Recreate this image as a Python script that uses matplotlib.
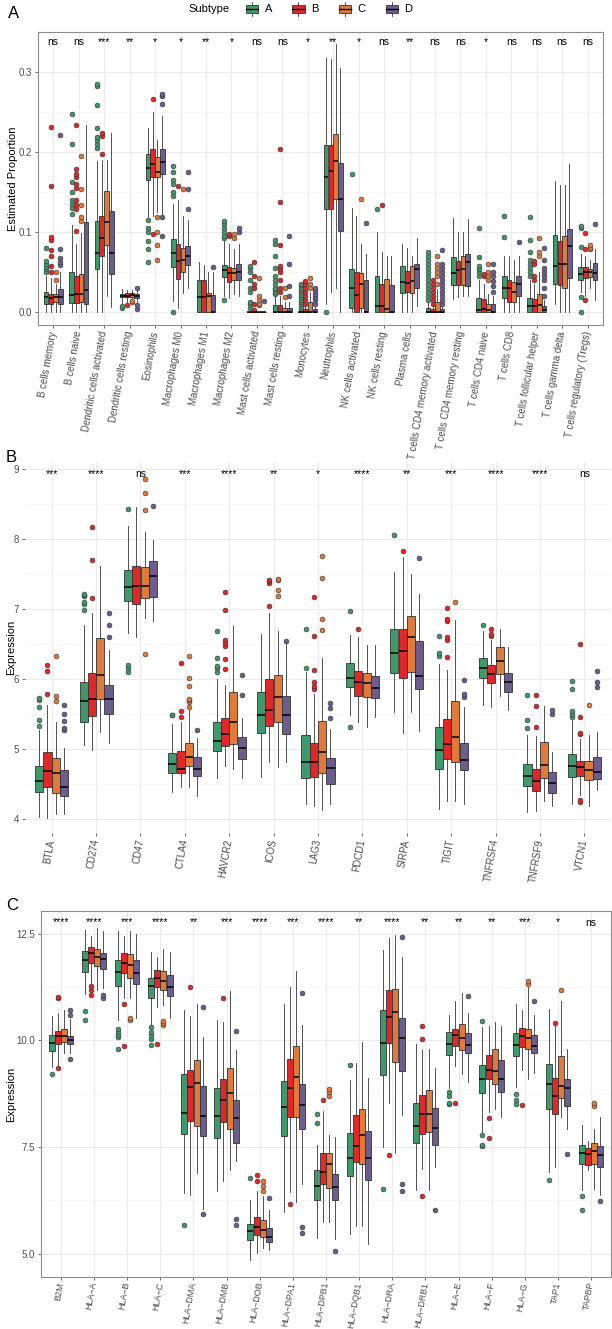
import matplotlib
matplotlib.use("Agg")
import matplotlib.pyplot as plt
import matplotlib.transforms as mtransforms
from matplotlib.patches import Rectangle, Patch
from matplotlib.lines import Line2D
from matplotlib.legend_handler import HandlerBase
import numpy as np

plt.rcParams['font.family'] = ['Liberation Sans', 'DejaVu Sans']

# ---------------- data ----------------
subtypes = ["A", "B", "C", "D"]
colors = ["#3E9A6C", "#E0282A", "#E07A3A", "#6B5D8C"]

# Panel A : CIBERSORT immune cell proportions
cats_a = ["B cells memory", "B cells naive", "Dendritic cells activated", "Dendritic cells resting",
          "Eosinophils", "Macrophages M0", "Macrophages M1", "Macrophages M2", "Mast cells activated",
          "Mast cells resting", "Monocytes", "Neutrophils", "NK cells activated", "NK cells resting",
          "Plasma cells", "T cells CD4 memory activated", "T cells CD4 memory resting", "T cells CD4 naive",
          "T cells CD8", "T cells follicular helper", "T cells gamma delta", "T cells regulatory (Tregs)"]
sig_a = ["ns", "ns", "***", "**", "*", "*", "**", "*", "ns", "ns", "*", "**", "*", "ns", "**", "ns", "ns",
         "*", "ns", "ns", "ns", "ns"]
a_lo = [[0, 0, 0, 0], [0, 0, 0, 0], [0, 0, 0.02, 0.006], [0.01, 0.012, 0.015, 0.012],
        [0.118, 0.12, 0.125, 0.122], [0.013, 0.005, 0.023, 0.03], [0, 0, 0, 0], [0.02, 0.017, 0.022, 0.02],
        [0, 0, 0, 0], [0, 0, 0, 0], [0, 0, 0, 0], [0.01, 0.025, 0.03, 0], [0, 0, 0, 0], [0, 0, 0, 0],
        [0, 0, 0, 0.007], [0, 0, 0, 0], [0.016, 0.018, 0.02, 0.02], [0, 0, 0, 0], [0, 0, 0, 0],
        [0, 0, 0, 0], [0.01, 0, 0, 0], [0.025, 0.02, 0.03, 0.015]]
a_q1 = [[0.010, 0.010, 0.012, 0.010], [0.011, 0.011, 0.012, 0.010], [0.053, 0.070, 0.083, 0.047],
        [0.018, 0.018, 0.018, 0.017], [0.165, 0.168, 0.168, 0.172], [0.056, 0.041, 0.050, 0.058],
        [0, 0, 0, 0], [0.043, 0.037, 0.040, 0.040], [0, 0, 0, 0], [0, 0, 0, 0], [0, 0, 0, 0],
        [0.129, 0.129, 0.141, 0.101], [0.005, 0, 0.004, 0], [0, 0, 0, 0], [0.023, 0.025, 0.023, 0.030],
        [0, 0, 0, 0], [0.033, 0.033, 0.033, 0.032], [0, 0, 0, 0], [0.017, 0.012, 0.012, 0.020],
        [0, 0, 0, 0], [0.034, 0.033, 0.030, 0.042], [0.040, 0.042, 0.043, 0.040]]
a_med = [[0.018, 0.017, 0.018, 0.018], [0.021, 0.022, 0.022, 0.027], [0.073, 0.092, 0.112, 0.073],
         [0.020, 0.020, 0.021, 0.020], [0.180, 0.185, 0.175, 0.187], [0.073, 0.063, 0.065, 0.070],
         [0.018, 0.018, 0.019, 0], [0.052, 0.048, 0.048, 0.050], [0, 0, 0, 0], [0, 0, 0, 0], [0, 0, 0, 0],
         [0.168, 0.176, 0.188, 0.141], [0.030, 0.021, 0.035, 0], [0.007, 0.007, 0.003, 0],
         [0.037, 0.036, 0.038, 0.053], [0, 0, 0, 0], [0.048, 0.052, 0.053, 0.062],
         [0.002, 0.003, 0.002, 0], [0.029, 0.030, 0.025, 0.034], [0.007, 0.007, 0.008, 0.002],
         [0.057, 0.060, 0.060, 0.082], [0.047, 0.050, 0.050, 0.048]]
a_q3 = [[0.025, 0.022, 0.022, 0.028], [0.050, 0.045, 0.047, 0.112], [0.113, 0.120, 0.151, 0.126],
        [0.022, 0.023, 0.023, 0.022], [0.197, 0.204, 0.193, 0.204], [0.091, 0.085, 0.080, 0.082],
        [0.040, 0.040, 0.023, 0.021], [0.058, 0.056, 0.055, 0.060], [0, 0, 0, 0],
        [0.008, 0.008, 0.005, 0.005], [0, 0.003, 0.012, 0.003], [0.208, 0.208, 0.222, 0.186],
        [0.053, 0.050, 0.049, 0.039], [0.045, 0.035, 0.041, 0.033], [0.057, 0.051, 0.057, 0.060],
        [0.005, 0.003, 0.012, 0.003], [0.068, 0.063, 0.070, 0.072], [0.017, 0.016, 0.010, 0.009],
        [0.045, 0.040, 0.037, 0.045], [0.017, 0.016, 0.022, 0.007], [0.096, 0.089, 0.095, 0.104],
        [0.056, 0.056, 0.053, 0.061]]
a_hi = [[0.045, 0.042, 0.035, 0.050], [0.108, 0.085, 0.098, 0.233], [0.188, 0.190, 0.190, 0.224],
        [0.028, 0.027, 0.027, 0.027], [0.230, 0.250, 0.215, 0.245], [0.135, 0.140, 0.120, 0.115],
        [0.062, 0.058, 0.050, 0.050], [0.090, 0.085, 0.078, 0.085], [0, 0, 0, 0],
        [0.020, 0.020, 0.012, 0.012], [0, 0.007, 0.025, 0.007], [0.318, 0.316, 0.335, 0.305],
        [0.130, 0.120, 0.085, 0.072], [0.100, 0.075, 0.070, 0.070], [0.085, 0.080, 0.070, 0.092],
        [0.012, 0.007, 0.028, 0.007], [0.117, 0.100, 0.100, 0.116], [0.040, 0.035, 0.022, 0.020],
        [0.070, 0.070, 0.065, 0.070], [0.040, 0.035, 0.050, 0.015], [0.163, 0.158, 0.158, 0.185],
        [0.072, 0.070, 0.065, 0.078]]
a_out = [
    [[0.05, 0.053, 0.056, 0.06, 0.063, 0.08], [0.05, 0.057, 0.07, 0.077, 0.09, 0.094, 0.157, 0.231], [0.04, 0.05], [0.058, 0.062, 0.067, 0.078, 0.221]],
    [[0.122, 0.13, 0.135, 0.14, 0.15, 0.162, 0.21, 0.247], [0.101, 0.128, 0.133, 0.14, 0.155, 0.16, 0.168, 0.172, 0.178, 0.234], [0.113, 0.118, 0.133, 0.153, 0.195], []],
    [[0.205, 0.21, 0.215, 0.218, 0.23, 0.259, 0.282, 0.285], [0.197, 0.22, 0.223], [], []],
    [[0.005, 0.007], [0.008], [0.012, 0.013], [0.003, 0.008, 0.03]],
    [[0.062, 0.078, 0.088, 0.1, 0.105, 0.115], [0.097, 0.266], [0.065, 0.083, 0.1, 0.118], [0.095, 0.118, 0.26, 0.27, 0.273]],
    [[0.0, 0.145, 0.15, 0.16, 0.165, 0.175, 0.182], [0.157], [0.153], [0.128, 0.153, 0.175]],
    [[], [], [], [0.056]],
    [[0.014, 0.092, 0.095, 0.1, 0.105, 0.11, 0.113], [0.095, 0.097], [0.092, 0.097], [0.1, 0.105]],
    [[0.005, 0.01, 0.012, 0.025, 0.03, 0.04, 0.05, 0.055, 0.057], [0.002, 0.01, 0.03, 0.035, 0.045, 0.062], [0.008, 0.01, 0.015, 0.02, 0.042], [0.013]],
    [[0.022, 0.025, 0.028, 0.03, 0.035, 0.04, 0.045, 0.055, 0.07, 0.085, 0.09], [0.025, 0.03, 0.04, 0.05, 0.053, 0.057, 0.083, 0.137, 0.204], [0.018, 0.03], [0.02, 0.032, 0.06, 0.095]],
    [[0.003, 0.006, 0.009, 0.012, 0.015, 0.018, 0.021, 0.024, 0.027, 0.03, 0.033, 0.035], [0.01, 0.015, 0.02, 0.025, 0.03, 0.035, 0.038], [0.03, 0.035, 0.042], [0.01, 0.014, 0.018, 0.022, 0.026, 0.03]],
    [[0.0], [], [], []],
    [[0.172], [], [0.141], [0.111]],
    [[0.129], [0.134], [], []],
    [[], [], [], []],
    [[0.015, 0.02, 0.025, 0.03, 0.035, 0.04, 0.045, 0.05, 0.055, 0.06, 0.065, 0.07, 0.075], [0.01, 0.015, 0.02, 0.025, 0.03, 0.035, 0.04], [0.035, 0.045, 0.05, 0.055, 0.06, 0.07], [0.01, 0.015, 0.02, 0.025, 0.03, 0.035, 0.04, 0.045, 0.05, 0.055, 0.06, 0.077]],
    [[], [], [], []],
    [[0.045, 0.05, 0.053, 0.057, 0.068, 0.105], [0.045, 0.047], [0.04, 0.045, 0.05, 0.06], [0.025, 0.032, 0.038, 0.045, 0.05, 0.06]],
    [[0.094, 0.12], [], [], [0.087]],
    [[0.045, 0.05, 0.055, 0.06, 0.065, 0.075, 0.09, 0.119], [0.04, 0.045, 0.06, 0.063], [0.07, 0.075, 0.092], [0.02, 0.03, 0.04, 0.045, 0.05, 0.055, 0.065, 0.08]],
    [[], [], [], []],
    [[0.0, 0.018, 0.081, 0.105, 0.107], [0.015, 0.079, 0.099], [0.078, 0.08, 0.083], [0.11]],
]

# Panel B : immune checkpoint expression
cats_b = ["BTLA", "CD274", "CD47", "CTLA4", "HAVCR2", "ICOS", "LAG3", "PDCD1", "SIRPA", "TIGIT",
          "TNFRSF4", "TNFRSF9", "VTCN1"]
sig_b = ["***", "****", "ns", "***", "****", "**", "*", "****", "**", "***", "****", "****", "ns"]
b_lo = [[4.03, 4.02, 4.07, 4.07], [5.05, 4.98, 5.24, 5.09], [6.66, 6.6, 6.87, 6.83], [4.38, 4.45, 4.46, 4.33],
        [4.59, 4.75, 4.72, 4.58], [4.6, 4.82, 4.74, 4.81], [4.21, 4.18, 4.13, 4.22], [5.49, 5.39, 5.32, 5.46],
        [5.53, 5.23, 5.53, 5.26], [4.14, 4.25, 4.26, 4.21], [5.63, 5.6, 5.76, 5.55], [4.1, 4.11, 4.25, 4.18],
        [4.21, 4.34, 4.19, 4.41]]
b_q1 = [[4.38, 4.46, 4.37, 4.33], [5.39, 5.47, 5.71, 5.5], [7.12, 7.07, 7.15, 7.17], [4.65, 4.65, 4.76, 4.62],
        [4.97, 5.04, 5.07, 4.86], [5.23, 5.33, 5.39, 5.22], [4.58, 4.6, 4.66, 4.5], [5.89, 5.76, 5.74, 5.73],
        [6.08, 6.02, 6.1, 5.85], [4.71, 4.85, 4.82, 4.7], [6.01, 5.94, 6.07, 5.82], [4.47, 4.4, 4.59, 4.37],
        [4.6, 4.61, 4.55, 4.57]]
b_med = [[4.54, 4.68, 4.66, 4.45], [5.69, 5.72, 6.06, 5.72], [7.31, 7.33, 7.33, 7.47], [4.79, 4.72, 4.89, 4.72],
         [5.12, 5.21, 5.38, 5.01], [5.48, 5.56, 5.74, 5.49], [4.82, 4.82, 4.96, 4.73], [6.02, 5.95, 5.94, 5.87],
         [6.37, 6.4, 6.6, 6.04], [4.99, 5.07, 5.17, 4.84], [6.16, 6.07, 6.26, 5.96], [4.61, 4.54, 4.77, 4.51],
         [4.76, 4.74, 4.7, 4.67]]
b_q3 = [[4.75, 4.95, 4.87, 4.70], [5.96, 6.09, 6.59, 5.92], [7.55, 7.62, 7.6, 7.69], [4.94, 4.97, 5.09, 4.88],
        [5.39, 5.44, 5.82, 5.17], [5.81, 6.0, 6.05, 5.75], [5.2, 5.08, 5.4, 4.87], [6.23, 6.12, 6.09, 6.04],
        [6.71, 6.71, 6.9, 6.54], [5.32, 5.43, 5.69, 5.09], [6.3, 6.2, 6.46, 6.08], [4.78, 4.71, 5.1, 4.67],
        [4.93, 4.83, 4.83, 4.88]]
b_hi = [[5.27, 5.63, 5.39, 5.02], [6.77, 6.94, 7.61, 6.41], [8.18, 8.45, 8.1, 7.98], [5.35, 5.39, 5.56, 5.15],
        [6.0, 5.91, 6.75, 5.44], [6.64, 6.94, 6.69, 6.51], [6.1, 5.79, 6.3, 5.28], [6.63, 6.6, 6.49, 6.49],
        [7.53, 7.74, 7.5, 7.21], [6.22, 6.13, 6.84, 5.6], [6.68, 6.55, 6.72, 6.45], [5.2, 5.18, 5.61, 4.96],
        [5.41, 5.14, 5.2, 5.24]]
b_out = [
    [[5.33, 5.42, 5.6, 5.7, 5.73], [5.78, 6.12, 6.2], [5.68, 5.75, 6.33], [5.27, 5.3, 5.4, 5.5, 5.63]],
    [[6.98, 7.07, 7.1, 7.18, 7.2, 7.22], [7.15, 7.7, 8.17], [], [6.6, 6.77, 6.94]],
    [[6.1, 6.15, 6.2, 8.43], [], [6.35, 8.42, 8.66, 8.86], [8.47]],
    [[5.48, 5.49], [5.45, 5.54, 6.23], [5.6, 5.67, 5.7, 5.72, 5.9, 6.02, 6.33], [5.27]],
    [[6.1, 6.15, 6.18, 6.3, 6.68], [6.14, 6.29, 6.47, 6.52, 6.55, 6.98, 7.24], [], [5.77, 6.05]],
    [[], [7.04, 7.37, 7.4, 7.42], [7.18, 7.27, 7.42, 7.43], [6.54]],
    [[6.15, 6.71], [5.85, 5.9, 5.95, 6.13, 6.61, 7.17], [6.7, 6.85, 7.44, 7.75], [5.44, 5.58, 5.65]],
    [[5.32, 6.97], [6.71], [], []],
    [[8.06], [7.83], [], [7.73]],
    [[6.33, 6.37, 6.62], [6.31, 6.56, 6.6, 6.83, 6.86, 7.02], [7.1], [5.74, 5.78, 5.99]],
    [[6.77], [6.61, 6.64, 6.72], [], []],
    [[5.3, 5.42, 5.77], [5.32, 5.62, 5.77], [], [5.5, 5.56]],
    [[5.45, 5.5, 5.54, 5.85, 5.97], [4.24, 4.27, 5.21, 5.23, 5.46, 6.5], [5.63], [5.89, 5.96, 6.11]],
]

# Panel C : MHC / antigen presentation gene expression
cats_c = ["B2M", "HLA\u2212A", "HLA\u2212B", "HLA\u2212C", "HLA\u2212DMA", "HLA\u2212DMB", "HLA\u2212DOB",
          "HLA\u2212DPA1", "HLA\u2212DPB1", "HLA\u2212DQB1", "HLA\u2212DRA", "HLA\u2212DRB1", "HLA\u2212E",
          "HLA\u2212F", "HLA\u2212G", "TAP1", "TAPBP"]
sig_c = ["****", "****", "***", "****", "**", "***", "****", "***", "****", "**", "****", "**", "**", "**",
         "***", "*", "ns"]
c_lo = [[9.38, 9.43, 9.71, 9.69], [11.09, 11.33, 11.17, 11.23], [10.47, 10.98, 11.0, 10.53],
        [10.33, 10.78, 10.82, 10.51], [6.43, 6.37, 6.88, 6.05], [6.46, 6.69, 6.97, 7.18], [4.85, 5.02, 5.14, 5.09],
        [5.97, 6.45, 6.2, 6.62], [5.37, 5.74, 5.74, 5.35], [5.46, 5.64, 5.64, 5.23], [7.5, 8.52, 7.36, 8.24],
        [6.48, 6.99, 6.48, 7.03], [8.87, 9.39, 9.22, 9.02], [7.85, 8.32, 8.4, 8.2], [8.91, 9.3, 9.08, 9.23],
        [6.9, 7.02, 8.2, 7.91], [6.48, 6.95, 6.52, 6.38]]
c_q1 = [[9.74, 9.92, 9.95, 9.91], [11.59, 11.8, 11.73, 11.68], [11.27, 11.58, 11.46, 11.31],
        [11.0, 11.25, 11.17, 11.03], [7.81, 8.11, 8.0, 7.75], [7.72, 8.09, 7.91, 7.6], [5.32, 5.43, 5.39, 5.27],
        [7.76, 8.2, 8.2, 7.93], [6.26, 6.63, 6.53, 6.25], [6.81, 7.15, 7.09, 6.72], [9.18, 9.94, 9.49, 9.28],
        [7.59, 7.81, 7.85, 7.55], [9.66, 9.86, 9.78, 9.69], [8.77, 9.08, 8.98, 8.79], [9.63, 9.84, 9.79, 9.69],
        [8.39, 8.27, 8.64, 8.47], [7.09, 7.07, 7.11, 7.02]]
c_med = [[9.94, 10.09, 10.09, 10.0], [11.88, 12.05, 11.94, 11.91], [11.6, 11.81, 11.76, 11.58],
         [11.27, 11.45, 11.39, 11.25], [8.3, 8.91, 9.0, 8.22], [8.23, 8.59, 8.77, 8.18], [5.54, 5.63, 5.56, 5.39],
         [8.44, 8.88, 9.13, 8.49], [6.59, 6.9, 7.09, 6.56], [7.25, 7.52, 7.77, 7.23], [9.94, 10.55, 10.66, 10.05],
         [8.0, 8.28, 8.28, 7.95], [9.92, 10.12, 10.05, 9.88], [9.09, 9.31, 9.27, 9.1], [9.9, 10.1, 10.05, 9.87],
         [8.97, 8.69, 8.92, 8.87], [7.36, 7.34, 7.41, 7.3]]
c_q3 = [[10.12, 10.22, 10.27, 10.09], [12.09, 12.19, 12.13, 12.05], [11.88, 12.05, 12.02, 11.89],
        [11.47, 11.64, 11.63, 11.52], [9.2, 9.3, 9.53, 8.93], [8.89, 9.08, 9.35, 8.61], [5.7, 5.85, 5.78, 5.6],
        [9.04, 9.55, 9.87, 8.98], [6.96, 7.35, 7.35, 6.87], [7.83, 8.24, 8.38, 7.87], [10.7, 11.17, 11.21, 10.52],
        [8.54, 8.71, 8.83, 8.42], [10.2, 10.27, 10.38, 10.16], [9.41, 9.65, 9.8, 9.53],
        [10.16, 10.29, 10.26, 10.12], [9.45, 9.12, 9.64, 9.09], [7.54, 7.48, 7.58, 7.52]]
c_hi = [[10.56, 10.65, 10.7, 10.5], [12.58, 12.44, 12.64, 12.56], [12.56, 12.44, 12.56, 12.48],
        [12.07, 11.95, 12.15, 12.07], [10.72, 10.56, 10.86, 10.08], [10.47, 10.43, 11.15, 9.78],
        [6.26, 6.47, 6.34, 6.03], [10.84, 11.25, 11.63, 10.35], [7.55, 8.34, 7.77, 7.73],
        [9.06, 9.47, 9.96, 9.12], [12.12, 12.4, 12.46, 11.95], [9.91, 9.78, 9.79, 9.34],
        [10.59, 10.92, 11.11, 10.63], [10.31, 10.34, 10.43, 10.33], [10.84, 10.72, 11.25, 10.59],
        [10.74, 10.34, 10.91, 9.8], [8.02, 7.63, 7.93, 8.19]]
c_out = [
    [[9.2], [9.34, 10.98, 11.02], [], [9.55, 10.6, 10.72]],
    [[10.47, 10.68], [11.05, 11.17, 11.27], [], [10.98, 11.05]],
    [[9.8, 10.08, 10.12, 10.2, 10.27], [9.87, 10.84], [10.48, 10.53], []],
    [[9.9, 10.02, 10.12, 10.2, 10.31], [9.92], [10.35, 10.4, 10.45], []],
    [[5.67], [11.25], [], [5.92, 10.77]],
    [[], [11.0], [], [5.66, 5.81, 10.22]],
    [[6.76], [6.69, 6.83], [6.46, 6.59, 6.71], [6.3]],
    [[], [6.17], [], [5.49, 5.63, 11.11]],
    [[8.05, 8.26], [8.6], [8.7, 8.78, 8.86], [5.05]],
    [[9.41], [], [], []],
    [[6.52], [7.32], [], [6.47, 6.64, 12.42]],
    [[], [6.34, 10.02, 10.33], [], [6.03]],
    [[8.5, 8.53, 8.69, 8.79], [8.54], [], [11.03]],
    [[7.52, 7.55, 7.77, 10.45], [7.7, 8.18], [], []],
    [[8.5, 8.6, 8.73], [8.48], [11.31, 11.4], [10.92]],
    [[6.73], [10.41], [11.17], [7.33]],
    [[6.03, 6.35], [], [8.45, 8.53], [6.23]],
]

# ---------------- drawing ----------------
W, H = 612, 1329
fig = plt.figure(figsize=(W / 100, H / 100), dpi=100)


def px_axes(l, t, r, b):
    return fig.add_axes([l / W, 1 - b / H, (r - l) / W, (b - t) / H])


EDGE = "#333333"
TICKC = "#4D4D4D"


def draw_panel(ax, cats, lo, q1, med, q3, hi, out, sig, ylim, sig_y, yticks, ylabels, yminor,
               frame, ylabel, ylabel_x, xfont=7.0, xpad=2.0):
    n = len(cats)
    bw = 0.75 / 4
    for j in range(4):
        stats = [dict(whislo=lo[i][j], q1=q1[i][j], med=med[i][j], q3=q3[i][j], whishi=hi[i][j],
                      fliers=out[i][j]) for i in range(n)]
        pos = np.arange(n) + (j - 1.5) * bw
        ax.bxp(stats, positions=pos, widths=bw * 0.97, patch_artist=True, showcaps=False,
               showfliers=True, manage_ticks=False, zorder=3,
               boxprops=dict(facecolor=colors[j], edgecolor=EDGE, linewidth=0.6),
               medianprops=dict(color="black", linewidth=1.1),
               whiskerprops=dict(color=EDGE, linewidth=0.6),
               flierprops=dict(marker="o", markerfacecolor=colors[j], markeredgecolor=EDGE,
                               markersize=3.5, markeredgewidth=0.4, linestyle="none"))
    for i, s in enumerate(sig):
        ax.text(i, sig_y, s, ha="center", va="center", fontsize=7.5, color="black", zorder=5)
    ax.set_xlim(-0.6, n - 0.4)
    ax.set_ylim(*ylim)
    ax.set_xticks(np.arange(n))
    ax.set_xticklabels(cats, fontsize=xfont, color=TICKC)
    for lab in ax.get_xticklabels():
        lab.set_rotation(80)
        lab.set_ha("right")
        lab.set_va("center")
        lab.set_rotation_mode("anchor")
    ax.set_yticks(yticks)
    ax.set_yticklabels(ylabels, fontsize=7, color=TICKC)
    ax.set_yticks(yminor, minor=True)
    ax.tick_params(axis="both", which="major", length=2.5, width=0.5, color=EDGE, pad=2)
    ax.tick_params(axis="x", which="major", pad=xpad)
    ax.tick_params(axis="both", which="minor", length=0)
    ax.set_axisbelow(True)
    ax.grid(True, which="major", color="#EBEBEB", linewidth=0.8)
    ax.grid(True, which="minor", axis="y", color="#F4F4F4", linewidth=0.5)
    for sp in ax.spines.values():
        if frame:
            sp.set_color("#8C8C8C")
            sp.set_linewidth(0.8)
        else:
            sp.set_visible(False)
    ax.set_ylabel(ylabel, fontsize=8, color="black")
    tr = mtransforms.blended_transform_factory(fig.transFigure, ax.transAxes)
    ax.yaxis.set_label_coords(ylabel_x / W, 0.5, transform=tr)


ax_a = px_axes(38, 32, 603, 325)
draw_panel(ax_a, cats_a, a_lo, a_q1, a_med, a_q3, a_hi, a_out, sig_a, (-0.0167, 0.350), 0.3375,
           [0.0, 0.1, 0.2, 0.3], ["0.0", "0.1", "0.2", "0.3"], [0.05, 0.15, 0.25], True,
           "Estimated Proportion", 18)

ax_b = px_axes(25, 462, 611, 833)
draw_panel(ax_b, cats_b, b_lo, b_q1, b_med, b_q3, b_hi, b_out, sig_b, (3.8, 9.1), 8.93,
           [4, 5, 6, 7, 8, 9], ["4", "5", "6", "7", "8", "9"], [4.5, 5.5, 6.5, 7.5, 8.5], False,
           "Expression", 16)

ax_c = px_axes(41, 911, 611, 1277)
draw_panel(ax_c, cats_c, c_lo, c_q1, c_med, c_q3, c_hi, c_out, sig_c, (4.45, 13.03), 12.76,
           [5.0, 7.5, 10.0, 12.5], ["5.0", "7.5", "10.0", "12.5"], [6.25, 8.75, 11.25], True,
           "Expression", 16, xfont=6.4, xpad=1.2)

# panel letters
fig.text(8 / W, 1 - 13 / H, "A", fontsize=12, ha="left", va="center")
fig.text(6 / W, 1 - 458 / H, "B", fontsize=12, ha="left", va="center")
fig.text(6 / W, 1 - 906 / H, "C", fontsize=12, ha="left", va="center")


# legend with boxplot-style keys
class BoxKey(HandlerBase):
    def create_artists(self, legend, orig_handle, xdescent, ydescent, width, height, fontsize, trans):
        c = orig_handle.get_facecolor()
        x0, y0 = -xdescent, -ydescent
        wl = Line2D([x0 + width / 2] * 2, [y0 - 0.2 * height, y0 + 1.2 * height], color=EDGE, lw=0.6,
                    transform=trans)
        r = Rectangle((x0 + 0.08 * width, y0 + 0.1 * height), 0.84 * width, 0.8 * height, facecolor=c,
                      edgecolor=EDGE, lw=0.6, transform=trans)
        m = Line2D([x0 + 0.08 * width, x0 + 0.92 * width], [y0 + height / 2] * 2, color="black", lw=1.0,
                   transform=trans)
        return [wl, r, m]


handles = [Patch(facecolor=c) for c in colors]
fig.text(230 / W, 1 - 9 / H, "Subtype", ha="right", va="center", fontsize=8)
fig.legend(handles=handles, labels=subtypes, handler_map={Patch: BoxKey()}, ncol=4, loc="center left",
           bbox_to_anchor=(245 / W, 1 - 9 / H), frameon=False, fontsize=8, handlelength=1.3,
           handleheight=1.0, columnspacing=1.7, handletextpad=0.5, borderpad=0, borderaxespad=0)

fig.savefig("out.png", dpi=100)
